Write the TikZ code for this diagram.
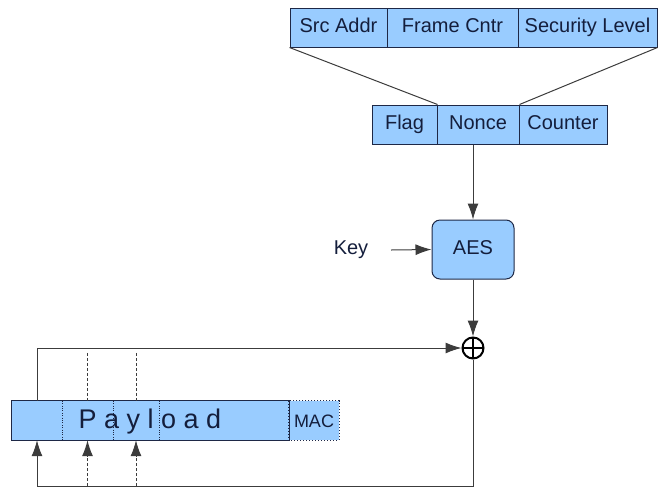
\documentclass[tikz,border=0pt]{standalone}
\usepackage{fontspec}
\setmainfont{Liberation Sans}
\usetikzlibrary{calc,positioning,arrows.meta}

\definecolor{boxblue}{RGB}{153,204,255}
\definecolor{boxline}{RGB}{30,40,70}
\definecolor{txtcol}{RGB}{20,30,60}
\definecolor{wirecol}{RGB}{60,60,60}

\tikzset{
  cell/.style={draw=boxline, fill=boxblue, line width=1pt, minimum height=39pt,
    inner sep=0pt, text height=14pt, text depth=4pt, text=txtcol,
    font=\fontsize{20}{24}\selectfont},
  pcell/.style={fill=boxblue, minimum height=39pt, inner sep=0pt},
  keytxt/.style={text=txtcol, font=\fontsize{20}{24}\selectfont},
  wire/.style={draw=wirecol, line width=1pt},
  arr/.style={wire, ->},
  dashwire/.style={wire, dash pattern=on 3pt off 2pt},
  xorop/.style={circle, draw=black, line width=2pt, minimum size=21pt, inner sep=0pt,
    path picture={\draw[line width=2pt]
      (path picture bounding box.north) -- (path picture bounding box.south)
      (path picture bounding box.west) -- (path picture bounding box.east);}}
}

\begin{document}
\begin{tikzpicture}[x=1pt, y=-1pt, >={Latex[length=16pt, width=11pt]}]
    \useasboundingbox (0,0) rectangle (658,488);

    % header fields
    \node[cell, minimum width=97pt]  (src)    at (338.5,27.5) {Src Addr};
    \node[cell, minimum width=131pt] (frame)  at (452.5,27.5) {Frame Cntr};
    \node[cell, minimum width=139pt] (seclvl) at (587.5,27.5) {Security Level};

    % nonce block
    \node[cell, minimum width=65pt] (flag)  at (404.5,124.5) {Flag};
    \node[cell, minimum width=82pt] (nonce) at (478,124.5) {Nonce};
    \node[cell, minimum width=88pt] (ctr)   at (563,124.5) {Counter};

    \draw[wire] (src.south west) -- (flag.north east);
    \draw[wire] (seclvl.south east) -- (nonce.north east);

    % cipher
    \node[cell, rounded corners=8pt, minimum width=82pt, minimum height=59pt] (aes) at (473,249.5) {AES};
    \node[keytxt] (key) at (351,250) {Key};
    \coordinate (keyin) at (391,250);
    \draw[arr] (aes.north |- nonce.south) -- (aes.north);
    \draw[arr] (keyin) -- (aes.west);

    \node[xorop] (xor) at (473,348) {};
    \draw[arr] (aes.south) -- (xor.north);

    % frame
    \node[pcell, minimum width=50pt]  (p0)  at (37,420.5) {};
    \node[pcell, minimum width=51pt]  (p1)  at (87.5,420.5) {};
    \node[pcell, minimum width=46pt]  (p2)  at (136,420.5) {};
    \node[pcell, minimum width=130pt] (p3)  at (224,420.5) {};
    \node[pcell, minimum width=50pt]  (mac) at (314,420.5) {};
    \draw[boxline, line width=1pt] (p0.north west) rectangle (p3.south east);
    \foreach \c in {p1,p2,p3}
    \draw[boxline, dotted] (\c.north west) -- (\c.south west);
    \draw[boxline, line width=1pt, dotted] (mac.north west) rectangle (mac.south east);

    \node[text=txtcol, font=\fontsize{27}{30}\selectfont] (payload) at (150,422) {P a y l o a d};
    \node[text=txtcol, font=\fontsize{18}{20}\selectfont] (mactxt) at (314,421) {MAC};

    % feedback
    \coordinate (loop) at (37,486);
    \draw[arr] (p0.north) |- (xor.west);
    \draw[arr] (xor.south) |- (loop) -- (p0.south);
    \foreach \c in {p1,p2}
    {
    \coordinate (\c top) at ($(\c.north)+(0,-48)$);
    \draw[dashwire] (\c top) -- (\c.north);
    \draw[dashwire, ->] (\c.south |- loop) -- (\c.south);
    }

  \end{tikzpicture}
\end{document}
